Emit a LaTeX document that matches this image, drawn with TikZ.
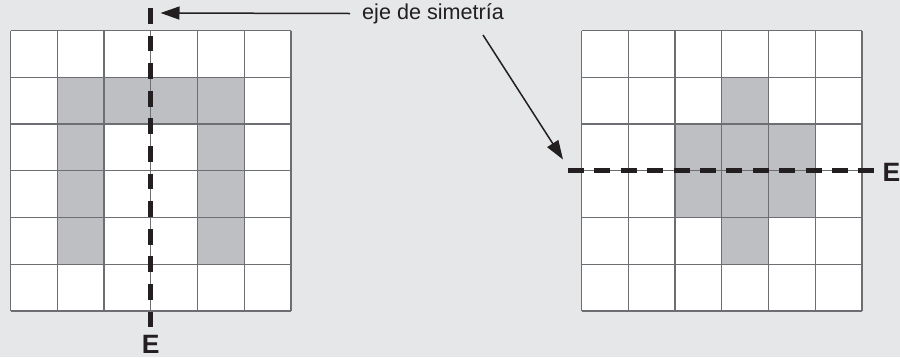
\documentclass[tikz,border=0pt]{standalone}
\usepackage{fontspec}
\setmainfont{Liberation Sans}
\usetikzlibrary{arrows.meta}
\definecolor{bgc}{HTML}{E6E7E9}
\definecolor{shadec}{HTML}{BEBFC2}
\definecolor{gridc}{HTML}{6D6E71}
\definecolor{inkc}{HTML}{231F20}
\begin{document}
\begin{tikzpicture}[x=1pt,y=-1pt,
  gridline/.style={draw=gridc,line width=1.4pt},
  cellfill/.style={fill=shadec},
  axisline/.style={draw=inkc,line width=4.6pt},
  vdash/.style={dash pattern=on 15.7pt off 11.9pt},
  hdash/.style={dash pattern=on 16pt off 10.4pt},
  pointer/.style={draw=inkc,line width=1.5pt,-{Triangle[length=19pt,width=13pt]}},
  elabel/.style={font=\fontsize{26.5}{30}\selectfont\bfseries,text=inkc,inner sep=0pt},
  textlabel/.style={font=\fontsize{21.6}{26}\selectfont,text=inkc,inner ysep=2pt,inner xsep=12pt}
]
\fill[bgc] (0,0) rectangle (900,357);
\useasboundingbox (0,0) rectangle (900,357);
\def\c{46.75}
% left grid
\begin{scope}[shift={(10.5,30.5)}]
  \fill[white] (0,0) rectangle (6*\c,6*\c);
  \foreach \col/\row in {1/1,2/1,3/1,4/1,1/2,4/2,1/3,4/3,1/4,4/4}
    \fill[cellfill] (\col*\c,\row*\c) rectangle ({(\col+1)*\c},{(\row+1)*\c});
  \foreach \i in {0,...,6} {
    \draw[gridline] (\i*\c,0) -- (\i*\c,6*\c);
    \draw[gridline] (0,\i*\c) -- (6*\c,\i*\c);
  }
\end{scope}
% right grid
\begin{scope}[shift={(581.5,30.5)}]
  \fill[white] (0,0) rectangle (6*\c,6*\c);
  \foreach \col/\row in {3/1,2/2,3/2,4/2,2/3,3/3,4/3,3/4}
    \fill[cellfill] (\col*\c,\row*\c) rectangle ({(\col+1)*\c},{(\row+1)*\c});
  \foreach \i in {0,...,6} {
    \draw[gridline] (\i*\c,0) -- (\i*\c,6*\c);
    \draw[gridline] (0,\i*\c) -- (6*\c,\i*\c);
  }
\end{scope}
% axes
\coordinate (v1) at (150.75,8);
\coordinate (v2) at (150.75,328);
\coordinate (h1) at (568,170.75);
\coordinate (h2) at (874,170.75);
\draw[axisline,vdash] (v1) -- (v2);
\draw[axisline,hdash] (h1) -- (h2);
\node[elabel] (E1) at (150.75,344) {E};
\node[elabel] (E2) at (891.5,172) {E};
% label and pointers
\node[textlabel,anchor=west] (lbl) at (350,13.5) {eje de simetría};
\coordinate (tip1) at (160.5,13);
\coordinate (s2) at (483,35);
\coordinate (tip2) at (563,159.5);
\draw[pointer] (lbl.west) -- (tip1);
\draw[pointer] (s2) -- (tip2);
\end{tikzpicture}
\end{document}
